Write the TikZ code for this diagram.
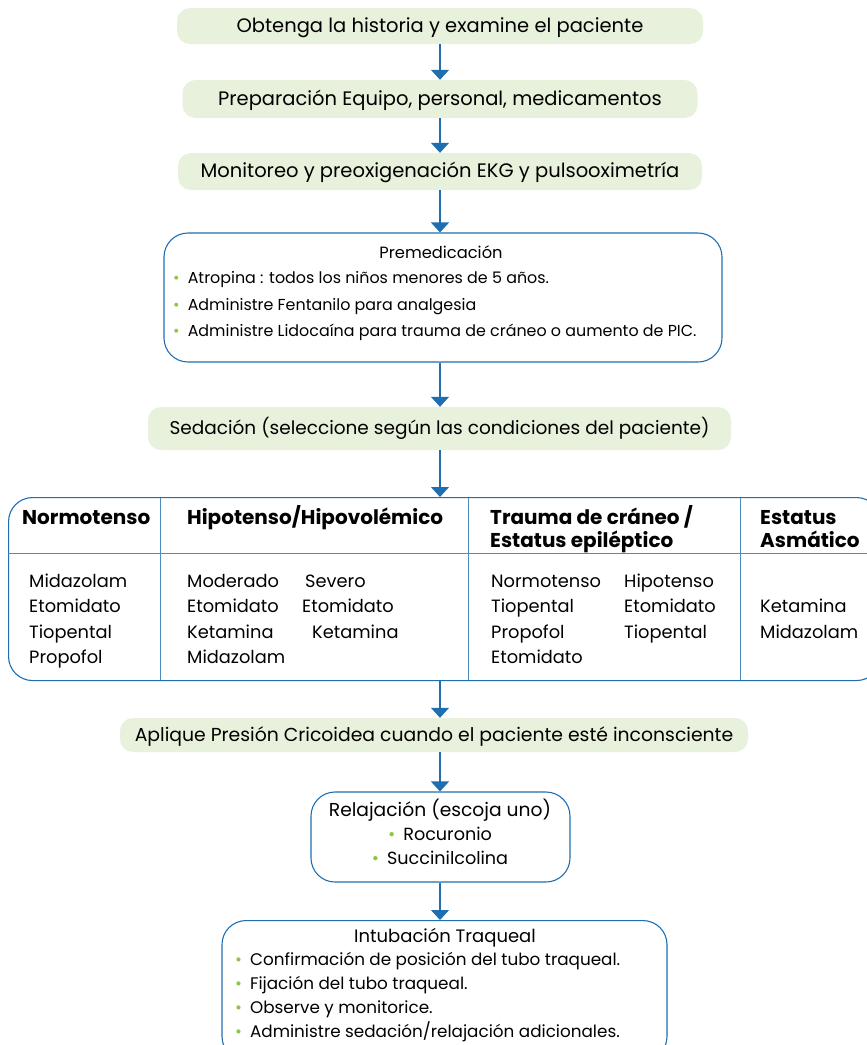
\documentclass[tikz,border=0pt]{standalone}
\usepackage{fontspec}
\setmainfont{Poppins}
\usetikzlibrary{arrows.meta}
\definecolor{flowblue}{RGB}{31,111,176}
\definecolor{palegreen}{RGB}{232,241,219}
\definecolor{dotgreen}{RGB}{141,198,63}
\newcommand\gbul{\textcolor{dotgreen}{\textbullet}\hspace{8pt}}
\tikzset{
  stepbox/.style={fill=palegreen, rounded corners=13pt, inner sep=0pt,
    text height=13pt, text depth=1pt, font=\fontsize{19.5}{22}\selectfont},
  roundbox/.style={draw=flowblue, line width=1.1pt, rounded corners=24pt, fill=white, inner sep=0pt},
  flow/.style={flowblue, line width=1.3pt, -{Triangle[width=18pt,length=10pt]}},
  txt/.style={inner sep=0pt, text height=13pt, text depth=1pt},
  cell/.style={txt, anchor=west, font=\fontsize{17.8}{21}\selectfont},
  head/.style={txt, anchor=west, font=\bfseries\fontsize{20}{23}\selectfont},
  premitem/.style={txt, anchor=west, font=\fontsize{15.9}{19}\selectfont},
  intitem/.style={txt, anchor=west, font=\fontsize{16.8}{20}\selectfont},
  rule/.style={flowblue!80, line width=0.8pt},
}
\begin{document}
\begin{tikzpicture}[x=1pt,y=-1pt]
\useasboundingbox (0,0) rectangle (867,1045);
\clip (0,0) rectangle (867,1045);

% top steps
\node[stepbox, minimum width=526pt, minimum height=36pt] (hist) at (440,26) {Obtenga la historia y examine el paciente};
\node[stepbox, minimum width=515pt, minimum height=38pt] (prep) at (440,99) {Preparación Equipo, personal, medicamentos};
\node[stepbox, minimum width=524pt, minimum height=37pt] (moni) at (440,171.5) {Monitoreo y preoxigenación EKG y pulsooximetría};

% premedication box
\node[roundbox, minimum width=558pt, minimum height=129pt] (premed) at (443,297.5) {};
\node[txt, font=\fontsize{16.3}{19}\selectfont] (premedT) at (441,252) {Premedicación};
\node[premitem] (pm1) at (173,277) {\gbul Atropina : todos los niños menores de 5 años.};
\node[premitem] (pm2) at (173,304) {\gbul Administre Fentanilo para analgesia};
\node[premitem] (pm3) at (173,330) {\gbul Administre Lidocaína para trauma de cráneo o aumento de PIC.};

% sedation
\node[stepbox, minimum width=583pt, minimum height=43pt, font=\fontsize{18.5}{22}\selectfont] (seda) at (439.5,428.5) {Sedación (seleccione según las condiciones del paciente)};

% sedation table
\node[roundbox, minimum width=872pt, minimum height=183pt, anchor=north west] (tab) at (8,497) {};
\coordinate (hdr) at (0,553);
\draw[rule] (tab.west |- hdr) -- (tab.east |- hdr);
\draw[rule] (160,497.5) -- (160,679.5);
\draw[rule] (468,497.5) -- (468,679.5);
\draw[rule] (740,497.5) -- (740,679.5);

\node[head] (h1) at (22,518) {Normotenso};
\node[head] (h2) at (187,518) {Hipotenso/Hipovolémico};
\node[head] (h3a) at (490,518) {Trauma de cráneo /};
\node[head] (h3b) at (490,541) {Estatus epiléptico};
\node[head] (h4a) at (760,518) {Estatus};
\node[head] (h4b) at (760,541) {Asmático};

\node[cell] at (29,581) {Midazolam};
\node[cell] at (29,606) {Etomidato};
\node[cell] at (29,632) {Tiopental};
\node[cell] at (29,657) {Propofol};

\node[cell] at (187,581) {Moderado};
\node[cell] at (305,581) {Severo};
\node[cell] at (187,606) {Etomidato};
\node[cell] at (302,606) {Etomidato};
\node[cell] at (187,632) {Ketamina};
\node[cell] at (312,632) {Ketamina};
\node[cell] at (187,657) {Midazolam};

\node[cell] at (491,581) {Normotenso};
\node[cell] at (624,581) {Hipotenso};
\node[cell] at (491,606) {Tiopental};
\node[cell] at (624,606) {Etomidato};
\node[cell] at (491,632) {Propofol};
\node[cell] at (624,632) {Tiopental};
\node[cell] at (491,657) {Etomidato};

\node[cell] at (760,606) {Ketamina};
\node[cell] at (760,632) {Midazolam};

% cricoid pressure
\node[stepbox, minimum width=628pt, minimum height=34pt, font=\fontsize{18.8}{22}\selectfont] (crico) at (434,735) {Aplique Presión Cricoidea cuando el paciente esté inconsciente};

% relaxation
\node[roundbox, minimum width=259pt, minimum height=90pt] (relax) at (440.5,837) {};
\node[txt, font=\fontsize{18.7}{22}\selectfont] at (440,810) {Relajación (escoja uno)};
\node[txt, font=\fontsize{17.6}{21}\selectfont] at (440,834) {\gbul Rocuronio};
\node[txt, font=\fontsize{17.6}{21}\selectfont] at (440,858) {\gbul Succinilcolina};

% intubation
\node[roundbox, minimum width=445pt, minimum height=140pt, anchor=north] (intub) at (444.5,920) {};
\node[txt, font=\fontsize{18}{21}\selectfont] at (445,936) {Intubación Traqueal};
\node[intitem] at (235,959) {\gbul Confirmación de posición del tubo traqueal.};
\node[intitem] at (235,983) {\gbul Fijación del tubo traqueal.};
\node[intitem] at (235,1007) {\gbul Observe y monitorice.};
\node[intitem] at (235,1031) {\gbul Administre sedación/relajación adicionales.};

% connectors
\draw[flow] (hist.south) -- (hist.south |- prep.north);
\draw[flow] (prep.south) -- (prep.south |- moni.north);
\draw[flow] (moni.south) -- (moni.south |- premed.north);
\draw[flow] (premed.south -| moni.south) -- (moni.south |- seda.north);
\draw[flow] (seda.south -| moni.south) -- (moni.south |- tab.north);
\draw[flow] (tab.south -| moni.south) -- (moni.south |- crico.north);
\draw[flow] (crico.south -| moni.south) -- (moni.south |- relax.north);
\draw[flow] (relax.south -| moni.south) -- (moni.south |- intub.north);
\end{tikzpicture}
\end{document}
